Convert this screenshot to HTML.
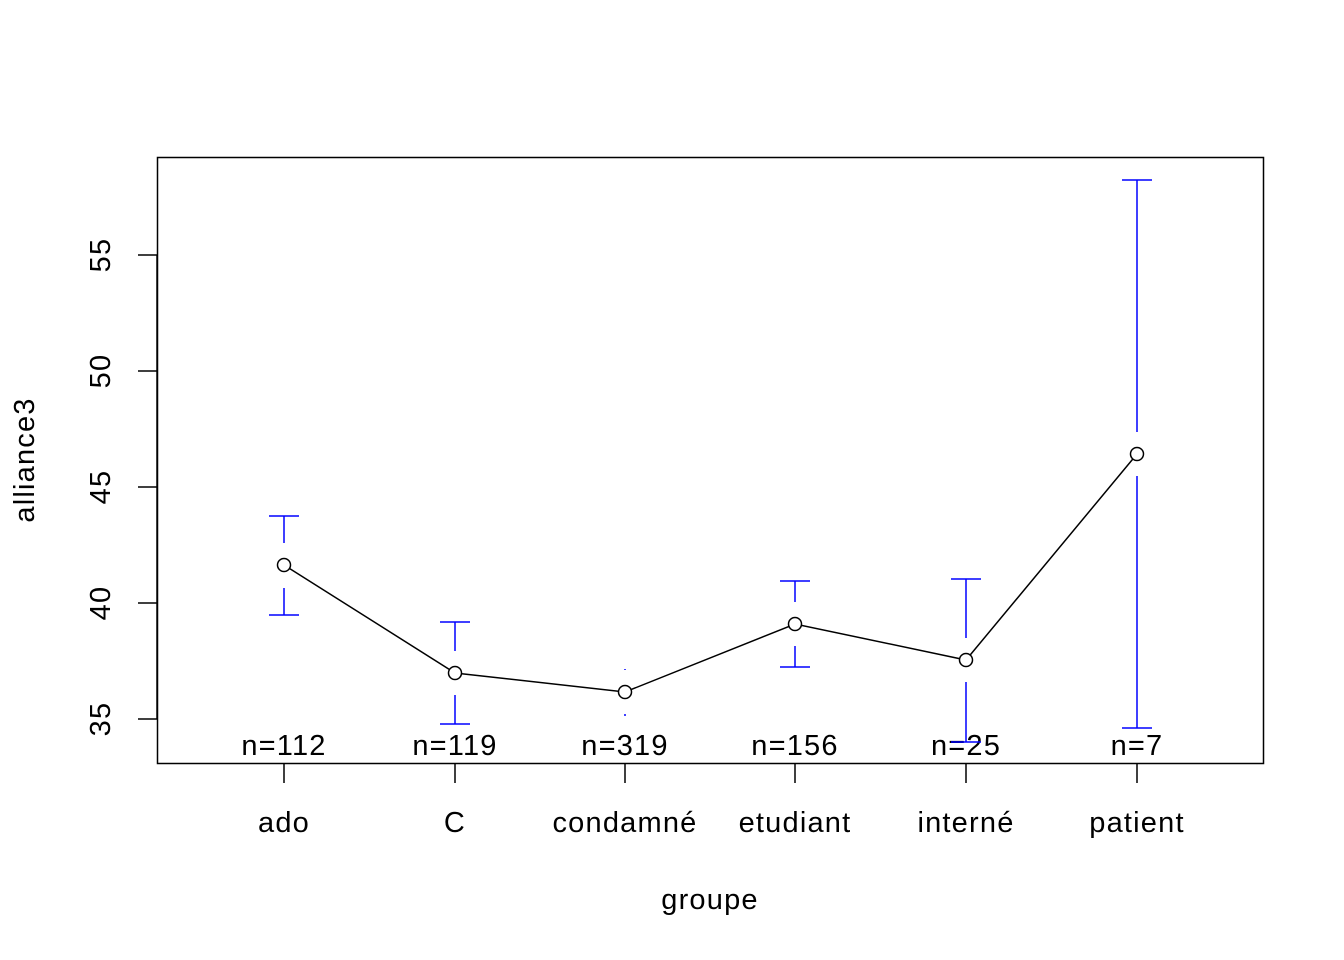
<!DOCTYPE html>
<html><head><meta charset="utf-8"><style>
html,body{margin:0;padding:0;background:#fff}
svg{display:block}
text{font-family:"Liberation Sans",Arial,sans-serif;font-size:29px;letter-spacing:1.2px;fill:#000}
</style></head><body>
<svg width="1344" height="960" xmlns="http://www.w3.org/2000/svg">
<rect x="157.5" y="157.5" width="1106" height="606" fill="none" stroke="#000" stroke-width="1.5"/>
<g stroke="#000" stroke-width="1.5">
<line x1="157" y1="255" x2="157" y2="719"/>
<line x1="138" y1="719" x2="157" y2="719"/>
<line x1="138" y1="603" x2="157" y2="603"/>
<line x1="138" y1="487" x2="157" y2="487"/>
<line x1="138" y1="371" x2="157" y2="371"/>
<line x1="138" y1="255" x2="157" y2="255"/>
</g>
<g text-anchor="middle">
<text transform="translate(110,719) rotate(-90)">35</text>
<text transform="translate(110,603) rotate(-90)">40</text>
<text transform="translate(110,487) rotate(-90)">45</text>
<text transform="translate(110,371) rotate(-90)">50</text>
<text transform="translate(110,255) rotate(-90)">55</text>
<text transform="translate(34,460) rotate(-90)">alliance3</text>
</g>
<g stroke="#000" stroke-width="1.5">
<line x1="284" y1="764" x2="284" y2="783"/>
<line x1="455" y1="764" x2="455" y2="783"/>
<line x1="625" y1="764" x2="625" y2="783"/>
<line x1="795" y1="764" x2="795" y2="783"/>
<line x1="966" y1="764" x2="966" y2="783"/>
<line x1="1137" y1="764" x2="1137" y2="783"/>
</g>
<g text-anchor="middle">
<text x="284" y="832">ado</text>
<text x="455" y="832">C</text>
<text x="625" y="832">condamné</text>
<text x="795" y="832">etudiant</text>
<text x="966" y="832">interné</text>
<text x="1137" y="832">patient</text>
<text x="710" y="909">groupe</text>
<text x="284" y="755">n=112</text>
<text x="455" y="755">n=119</text>
<text x="625" y="755">n=319</text>
<text x="795" y="755">n=156</text>
<text x="966" y="755">n=25</text>
<text x="1137" y="755">n=7</text>
</g>
<g stroke="#0000ff" stroke-width="1.5">
<line x1="284" y1="516" x2="284" y2="543"/><line x1="284" y1="588" x2="284" y2="615"/>
<line x1="269" y1="516" x2="299" y2="516"/><line x1="269" y1="615" x2="299" y2="615"/>
<line x1="455" y1="622" x2="455" y2="651"/><line x1="455" y1="695" x2="455" y2="724"/>
<line x1="440" y1="622" x2="470" y2="622"/><line x1="440" y1="724" x2="470" y2="724"/>
<line x1="625" y1="669" x2="625" y2="670"/><line x1="625" y1="714" x2="625" y2="716"/>
<line x1="795" y1="581" x2="795" y2="602"/><line x1="795" y1="646" x2="795" y2="667"/>
<line x1="780" y1="581" x2="810" y2="581"/><line x1="780" y1="667" x2="810" y2="667"/>
<line x1="966" y1="579" x2="966" y2="638"/><line x1="966" y1="682" x2="966" y2="742"/>
<line x1="951" y1="579" x2="981" y2="579"/><line x1="951" y1="742" x2="981" y2="742"/>
<line x1="1137" y1="180" x2="1137" y2="432"/><line x1="1137" y1="476" x2="1137" y2="728"/>
<line x1="1122" y1="180" x2="1152" y2="180"/><line x1="1122" y1="728" x2="1152" y2="728"/>
</g>
<polyline points="284,565 455,673 625,692 795,624 966,660 1137,454" fill="none" stroke="#000" stroke-width="1.5"/>
<g fill="#fff" stroke="#000" stroke-width="1.5">
<circle cx="284" cy="565" r="6.5"/><circle cx="455" cy="673" r="6.5"/>
<circle cx="625" cy="692" r="6.5"/><circle cx="795" cy="624" r="6.5"/>
<circle cx="966" cy="660" r="6.5"/><circle cx="1137" cy="454" r="6.5"/>
</g>
</svg>
</body></html>
